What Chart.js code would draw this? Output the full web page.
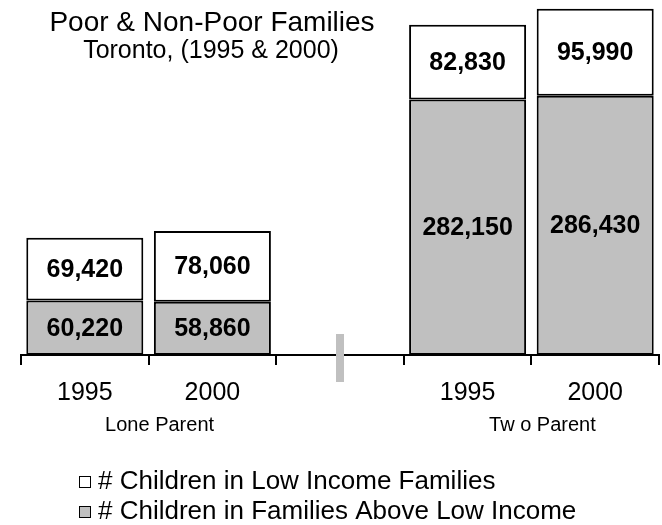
<!DOCTYPE html>
<html>
<head>
<meta charset="utf-8">
<script src="https://cdn.jsdelivr.net/npm/chart.js@4.4.0/dist/chart.umd.min.js"></script>
<style>
  html, body { margin: 0; padding: 0; background: #fff; }
</style>
</head>
<body>
<canvas id="chart" width="662" height="525"></canvas>
<script>
const categories = ['1995', '2000', '', '1995', '2000'];
const lowIncome = [69420, 78060, null, 82830, 95990];
const aboveLowIncome = [60220, 58860, null, 282150, 286430];
const groupNames = ['Lone Parent', 'Tw o Parent'];
const groupSpans = [[0, 1], [3, 4]];
const titleLines = ['Poor & Non-Poor Families', 'Toronto, (1995 & 2000)'];
const seriesNames = ['# Children in Families Above Low Income', '# Children in Low Income Families'];

const FONT = "'Liberation Sans', Arial, sans-serif";

const data = {
    labels: categories,
    datasets: [{
        label: seriesNames[0],
        data: aboveLowIncome,
        backgroundColor: '#c0c0c0',
        borderColor: '#000',
        borderWidth: 2,
        borderSkipped: false,
    },
    {
        label: seriesNames[1],
        data: lowIncome,
        backgroundColor: '#ffffff',
        borderColor: '#000',
        borderWidth: 2,
        borderSkipped: false,
    }]
};

// labels, title, break mark and legend drawn on top of the chart
const extras = {
    id: 'extras',
    afterDatasetsDraw(chart) {
        const ctx = chart.ctx;
        const x = chart.scales.x;
        const area = chart.chartArea;
        ctx.save();

        // values in the middle of each segment
        ctx.font = 'bold 25px ' + FONT;
        ctx.fillStyle = '#000';
        ctx.textAlign = 'center';
        ctx.textBaseline = 'middle';
        chart.data.datasets.forEach((ds, i) => {
            chart.getDatasetMeta(i).data.forEach((bar, j) => {
                const v = ds.data[j];
                if (v == null) return;
                ctx.fillText(v.toLocaleString('en-US'), bar.x, (bar.y + bar.base) / 2 + 1);
            });
        });

        // grey break mark in the empty slot
        const mx = x.getPixelForValue(2);
        ctx.fillStyle = '#c0c0c0';
        ctx.fillRect(mx - 4, area.bottom - 21, 8, 48);

        // group names under the years
        ctx.fillStyle = '#000';
        ctx.font = '20px ' + FONT;
        groupSpans.forEach((s, k) => {
            const cx = (x.getPixelForValue(s[0]) + x.getPixelForValue(s[1])) / 2 + 11;
            ctx.fillText(groupNames[k], cx, 425);
        });

        // title
        ctx.textBaseline = 'alphabetic';
        ctx.font = '28px ' + FONT;
        ctx.fillText(titleLines[0], 212, 31);
        ctx.font = '25px ' + FONT;
        ctx.fillText(titleLines[1], 211, 58);

        // legend, low income first
        ctx.textAlign = 'left';
        ctx.textBaseline = 'middle';
        ctx.font = '26px ' + FONT;
        [1, 0].forEach((di, k) => {
            const ds = chart.data.datasets[di];
            const y = 482 + k * 30;
            ctx.fillStyle = ds.backgroundColor;
            ctx.fillRect(79, y - 6, 12, 12);
            ctx.strokeStyle = '#000';
            ctx.lineWidth = 1;
            ctx.strokeRect(79.5, y - 5.5, 11, 11);
            ctx.fillStyle = '#000';
            ctx.fillText(ds.label, 98, y);
        });

        ctx.restore();
    }
};

const config = {
    type: 'bar',
    data: data,
    options: {
        responsive: false,
        animation: false,
        devicePixelRatio: 1,
        layout: { padding: { left: 21, right: 3, top: 2, bottom: 0 } },
        datasets: {
            bar: { categoryPercentage: 1, barPercentage: 0.917 }
        },
        plugins: {
            legend: { display: false },
            tooltip: { enabled: false },
            title: { display: false }
        },
        scales: {
            x: {
                stacked: true,
                afterFit: (s) => { s.height = 170; },
                grid: {
                    offset: true,
                    drawOnChartArea: false,
                    drawTicks: true,
                    tickLength: 10,
                    tickColor: '#000',
                    tickWidth: 2,
                    color: '#000',
                    lineWidth: 2
                },
                border: { display: true, color: '#000', width: 2 },
                ticks: {
                    color: '#000',
                    font: { family: FONT, size: 25 },
                    padding: 13,
                    maxRotation: 0,
                    autoSkip: false
                }
            },
            y: {
                stacked: true,
                display: false,
                min: 0,
                max: 390000
            }
        }
    },
    plugins: [extras]
};

const chart = new Chart(document.getElementById('chart'), config);
</script>
</body>
</html>
